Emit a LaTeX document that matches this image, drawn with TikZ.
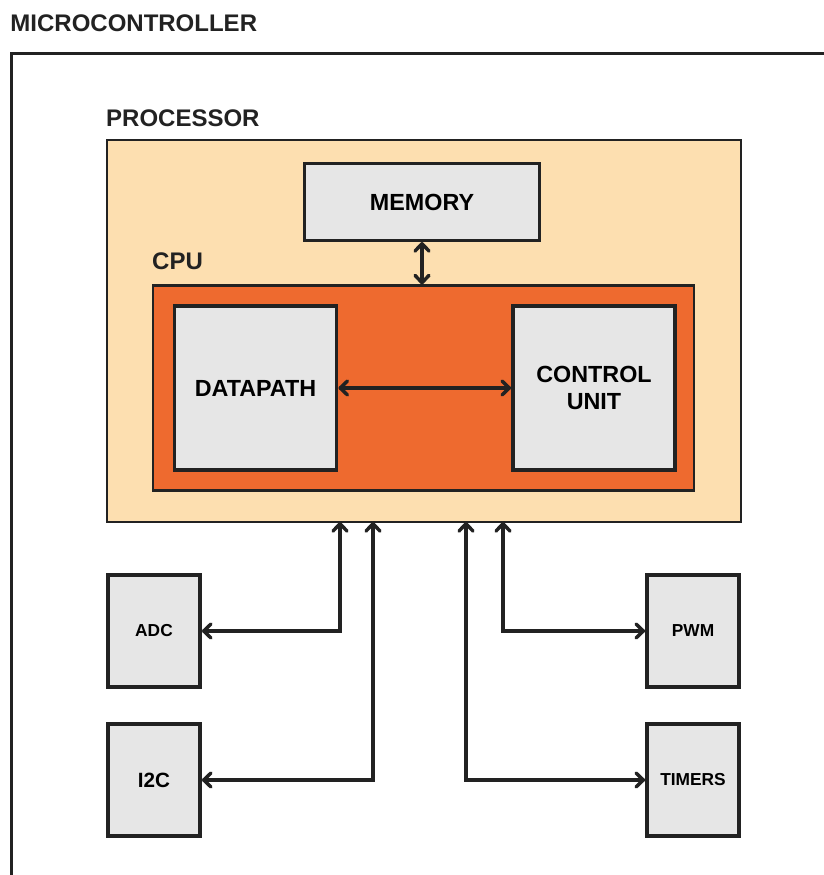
\documentclass[tikz,border=0pt]{standalone}
\usepackage{fontspec}
\setmainfont{Liberation Sans}
\usetikzlibrary{positioning}
\usetikzlibrary{arrows.meta}
\definecolor{peach}{HTML}{FDDFB0}
\definecolor{cpuorange}{HTML}{EE6A2F}
\definecolor{boxgray}{HTML}{E6E6E6}
\definecolor{ink}{HTML}{222222}
\tikzset{
    title/.style = {inner sep=0pt, font=\bfseries\fontsize{18}{21}\selectfont, text=ink},
    mcubox/.style = {draw=ink, line width=2.4pt},
    procbox/.style = {rectangle, draw=ink, line width=1.6pt, fill=peach, minimum width=475.5pt, minimum height=286.5pt},
    cpubox/.style = {rectangle, draw=ink, line width=1.6pt, fill=cpuorange, minimum width=405.75pt, minimum height=153.75pt},
    membox/.style = {rectangle, draw=ink, line width=1.9pt, fill=boxgray, minimum width=176.6pt, minimum height=58.1pt, align=center, inner sep=0pt, font=\bfseries\fontsize{17.5}{20}\selectfont},
    unitbox/.style = {rectangle, draw=ink, line width=2.9pt, fill=boxgray, minimum width=121.5pt, minimum height=123pt, align=center, inner sep=0pt, font=\bfseries\fontsize{17.5}{20}\selectfont},
    periph/.style = {rectangle, draw=ink, line width=2.9pt, fill=boxgray, minimum width=69pt, minimum height=84.5pt, inner sep=0pt, font=\bfseries\fontsize{13}{15}\selectfont},
    barb/.tip = {Straight Barb[length=5.5pt,width=10.5pt,line join=round,line cap=round]},
    link/.style = {barb-barb, line width=2.6pt, draw=ink}
}
\begin{document}
\begin{tikzpicture}[x=0.75pt,y=0.75pt]
\useasboundingbox (0,0) rectangle (824,875);
%
% microcontroller frame, cut by the page
\coordinate (mcu) at (11.5, 821.5);
\draw[mcubox] (824, 821.5) -- (mcu) -- (11.5, 0);
\node[title, above right=16pt and -1pt of mcu] (mculabel) {MICROCONTROLLER};
%
\node[procbox] at (424, 544) (proc) {};
\node[title, above right=9pt and 0pt of proc.north west] (proclabel) {PROCESSOR};
\node[membox] at (422, 673) (mem) {MEMORY};
\node[cpubox] at (423.5, 487) (cpu) {};
\node[title, above right=11pt and 0pt of cpu.north west] (cpulabel) {CPU};
\node[unitbox] at (255.5, 487) (dp) {DATAPATH};
\node[unitbox] at (594, 487) (cu) {CONTROL\\UNIT};
%
\node[periph] at (154, 244) (adc) {ADC};
\node[periph, font=\bfseries\fontsize{15.5}{18}\selectfont] at (154, 95) (i2c) {I2C};
\node[periph] at (693, 244) (pwm) {PWM};
\node[periph] at (693, 95) (timers) {TIMERS};
%
% bus ends on the processor
\coordinate (badc) at (340, 353);
\coordinate (bi2c) at (373, 353);
\coordinate (btim) at (466, 353);
\coordinate (bpwm) at (503, 353);
%
\draw[link] (mem.south) -- (mem.south |- cpu.north);
\draw[link] (dp.east) -- (cu.west);
\draw[link] (adc.east) -| (badc);
\draw[link] (i2c.east) -| (bi2c);
\draw[link] (timers.west) -| (btim);
\draw[link] (pwm.west) -| (bpwm);

\end{tikzpicture}
\end{document}
